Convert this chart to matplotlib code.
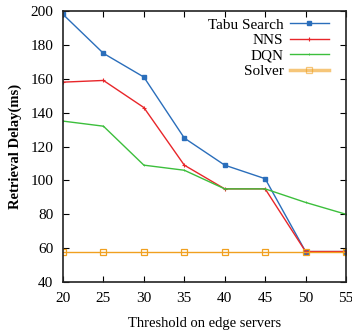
import matplotlib
matplotlib.use("Agg")
import matplotlib.pyplot as plt

plt.rcParams['font.family'] = ['Liberation Serif', 'DejaVu Serif']

thresholds = [20, 25, 30, 35, 40, 45, 50, 55]
tabu = [198, 175, 161, 125, 109, 101, 58, 58]
nns = [158, 159, 143, 109, 95, 95, 58, 58]
dqn = [135, 132, 109, 106, 95, 95, 87, 80]
solver = [58, 58, 58, 58, 58, 58, 58, 58]

fig = plt.figure(figsize=(3.52, 3.33), dpi=100)
ax = fig.add_axes([0.179, 0.153, 0.804, 0.814])

ax.plot(thresholds, tabu, color='#2a6ebb', lw=1.0, marker='s', ms=2.2, label='Tabu Search')
ax.plot(thresholds, nns, color='#e8262a', lw=1.0, marker='+', ms=3, mew=0.8, label='NNS')
ax.plot(thresholds, dqn, color='#3cbf3c', lw=1.0, marker='+', ms=2, mew=0.6, label='DQN')
ax.plot(thresholds, solver, color='#f0a020', lw=1.0, marker='s', ms=4, mfc='none', mew=0.9, label='Solver')

ax.set_xlim(20, 55)
ax.set_ylim(40, 200)
ax.set_xticks(thresholds)
ax.set_yticks(range(40, 201, 20))
ax.tick_params(direction='in', top=True, right=True, labelsize=11, length=4, width=0.8, pad=7)
for s in ax.spines.values():
    s.set_linewidth(1.2)
    s.set_color('#222222')

ax.set_xlabel('Threshold on edge servers', fontsize=10.5, labelpad=9)
ax.set_ylabel('Retrieval Delay(ms)', fontsize=10.5, fontweight='bold', labelpad=6)

leg = ax.legend(loc='upper right', bbox_to_anchor=(0.965, 1.0), frameon=False,
                markerfirst=False, fontsize=11,
                handlelength=2.6, handletextpad=0.4, labelspacing=0.12,
                borderaxespad=0.0, borderpad=0.45)
sl = leg.get_lines()[3]
sl.set_linewidth(2.5)
sl.set_alpha(0.6)

fig.savefig('out.png', dpi=100)
